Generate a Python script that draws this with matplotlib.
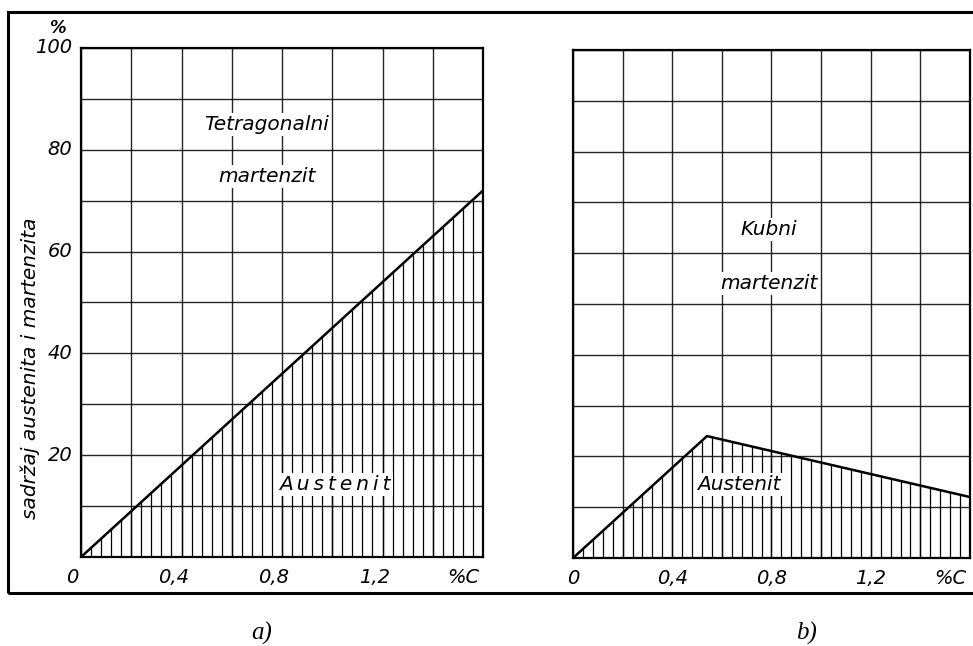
"""Austenite / martensite content vs. carbon content, panels a) and b)."""

import matplotlib.pyplot as plt
import numpy as np
from matplotlib.patches import Rectangle
from matplotlib.transforms import ScaledTranslation

# boundary between austenite (below) and martensite (above), %C vs %
C_TETRA = [0.0, 1.6]
A_TETRA = [0.0, 72.0]
C_CUBIC = [0.0, 0.54, 1.6]
A_CUBIC = [0.0, 24.0, 12.0]

Y_TICKS = [20, 40, 60, 80, 100]
X_TICKS = [0.0, 0.4, 0.8, 1.2]
X_TICK_LABELS = ["0", "0,4", "0,8", "1,2"]

TEXT = dict(style="italic", family="DejaVu Sans", color="black")
WHITE = dict(facecolor="white", edgecolor="none", pad=1.5)


def spaced(s):
    # stencil-style lettering: a thin space between letters
    return "\u2009".join(s)


def draw_panel(ax, cx, cy, label_shift):
    ax.set_xlim(0, 1.6)
    ax.set_ylim(0, 100)
    ax.set_xticks(np.arange(0, 1.61, 0.2))
    ax.set_yticks(np.arange(0, 101, 10))
    ax.grid(True, color="black", lw=1.0, alpha=0.85)
    ax.tick_params(length=0, labelbottom=False, labelleft=False)
    for sp in ax.spines.values():
        sp.set_linewidth(1.6)

    # vertical hatching under the boundary
    xs = np.arange(0.04, 1.6, 0.04)
    ax.vlines(xs, 0, np.interp(xs, cx, cy), color="black", lw=0.9, zorder=2)
    ax.plot(cx, cy, color="black", lw=1.8, zorder=3)

    fig = ax.figure
    off = ScaledTranslation(label_shift / 72, 0, fig.dpi_scale_trans)
    for x, s in zip(X_TICKS, X_TICK_LABELS):
        ax.text(x, -2.2, s, ha="center", va="top", fontsize=14,
                transform=ax.transData + off, **TEXT)
    ax.text(1.52, -2.2, "%C", ha="center", va="top", fontsize=14, **TEXT)


fig = plt.figure(figsize=(9.73, 6.46), dpi=100)
ax1 = fig.add_axes([0.0833, 0.1378, 0.4131, 0.7879])
ax2 = fig.add_axes([0.5889, 0.1362, 0.4080, 0.7864])

draw_panel(ax1, C_TETRA, A_TETRA, -6)
draw_panel(ax2, C_CUBIC, A_CUBIC, 0)

for y in Y_TICKS:
    ax1.text(-0.035, y, str(y), ha="right", va="center", fontsize=14, **TEXT)
ax1.text(-0.095, 104, "%", ha="center", va="center", fontsize=12,
         weight="bold", **TEXT)

ax1.text(0.74, 85, "Tetragonalni", ha="center", va="center", fontsize=14.5,
         bbox=WHITE, zorder=5, **TEXT)
ax1.text(0.74, 74.7, "martenzit", ha="center", va="center", fontsize=14.5,
         bbox=WHITE, zorder=5, **TEXT)
ax1.text(1.01, 14.3, spaced("Austenit"), ha="center", va="center",
         fontsize=14.5, bbox=WHITE, zorder=5, **TEXT)

ax2.text(0.79, 64.6, "Kubni", ha="center", va="center", fontsize=14.5,
         bbox=WHITE, zorder=5, **TEXT)
ax2.text(0.79, 54, "martenzit", ha="center", va="center", fontsize=14.5,
         bbox=WHITE, zorder=5, **TEXT)
ax2.text(0.67, 14.5, "Austenit", ha="center", va="center", fontsize=14.5,
         bbox=WHITE, zorder=5, **TEXT)

fig.text(0.031, 0.43, "sadržaj austenita i martenzita", rotation=90,
         ha="center", va="center", fontsize=14.5, **TEXT)

# frame around both panels, open on the right
fig.add_artist(Rectangle((0.0082, 0.082), 1.2, 0.8994, transform=fig.transFigure,
                         fill=False, lw=2.2, edgecolor="black", clip_on=False))

fig.text(0.269, 0.02, "a)", ha="center", va="center", fontsize=18,
         style="italic", family="Liberation Serif")
fig.text(0.829, 0.02, "b)", ha="center", va="center", fontsize=18,
         style="italic", family="Liberation Serif")

fig.savefig("out.png", dpi=100)
